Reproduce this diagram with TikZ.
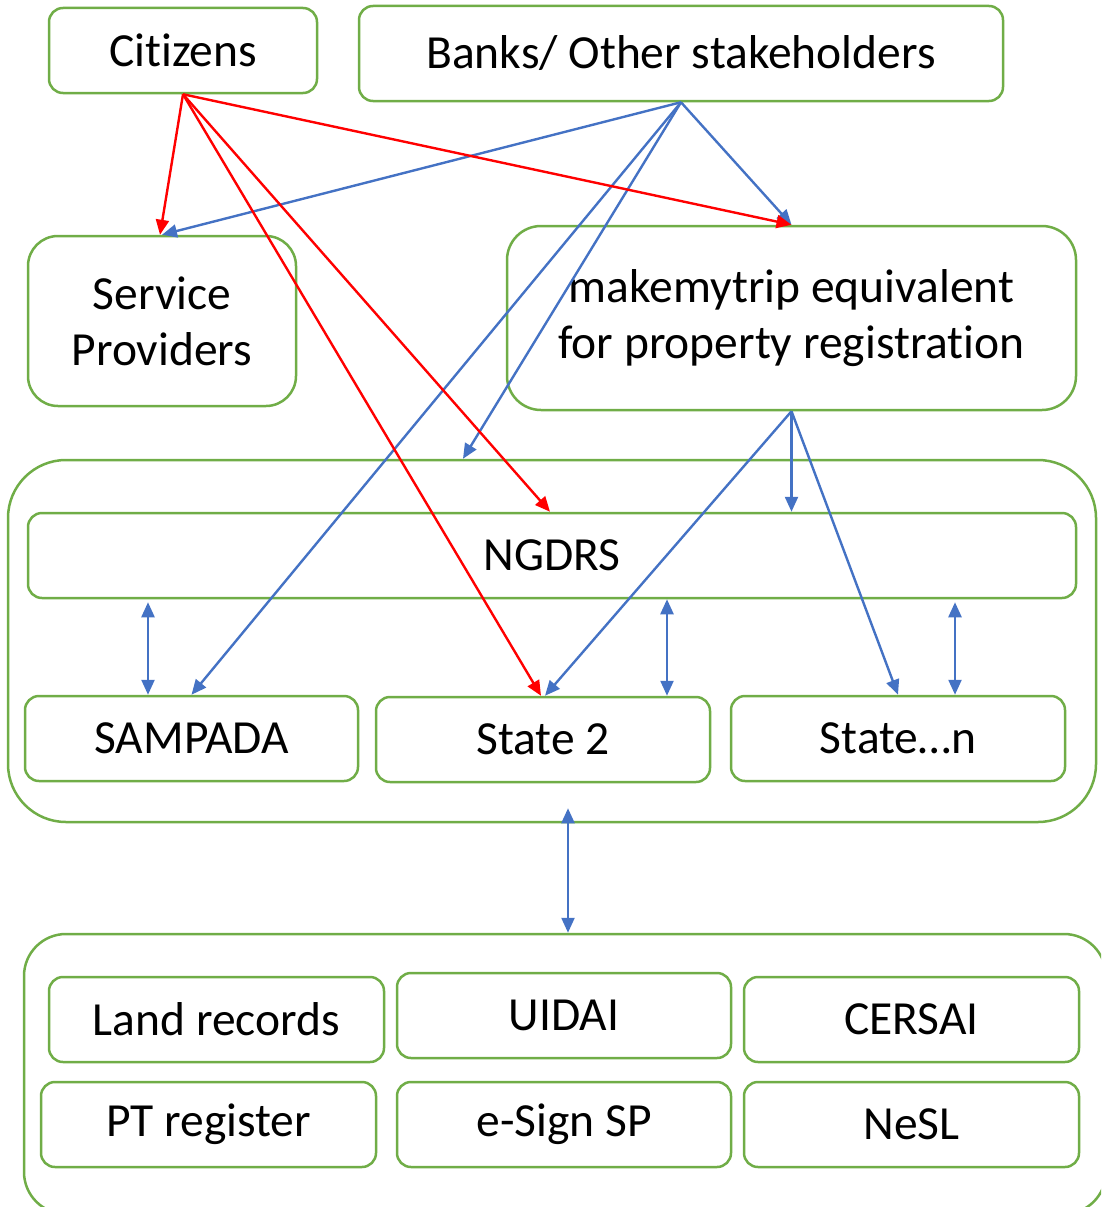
\documentclass[tikz,border=0pt]{standalone}
\usepackage{fontspec}
\setmainfont{Carlito}[Ligatures=CommonOff]
\usetikzlibrary{arrows.meta}
\definecolor{gr}{HTML}{70AD47}
\definecolor{bl}{HTML}{4472C4}
\definecolor{rd}{HTML}{FF0000}
\begin{document}
\begin{tikzpicture}[x=1pt,y=-1pt,
  box/.style={draw=gr, line width=2.5pt, rounded corners=14pt, inner sep=0pt,
    align=center, font=\fontsize{47.5}{56}\selectfont},
  rarrow/.style={draw=rd, line width=2.4pt, -{Triangle[length=15pt,width=13pt]}},
  barrow/.style={draw=bl, line width=2.4pt, -{Triangle[length=15pt,width=13pt]}},
  bdbl/.style={draw=bl, line width=2.4pt, {Triangle[length=15pt,width=13pt]}-{Triangle[length=15pt,width=13pt]}}]
\useasboundingbox (0,0) rectangle (1101,1207);
\clip (0,0) rectangle (1101,1207);

% containers
\node[box, rounded corners=58pt, minimum width=1088pt, minimum height=362pt] (mid) at (552,641) {};
\node[box, rounded corners=42pt, minimum width=1082pt, minimum height=280pt] (bot) at (565,1074) {};

% top
\node[box, minimum width=268pt, minimum height=85pt] (cit) at (183,50.5) {Citizens};
\node[box, minimum width=644pt, minimum height=95pt] (bank) at (681,53.5) {Banks/ Other stakeholders};
\node[box, rounded corners=30pt, minimum width=268pt, minimum height=170pt] (sp) at (162,321) {Service\\Providers};
\node[box, rounded corners=34pt, minimum width=569pt, minimum height=184pt] (mmt) at (791.5,318) {makemytrip equivalent\\for property registration};

% middle
\node[box, minimum width=1048pt, minimum height=85pt] (ngdrs) at (552,555.5) {NGDRS};
\node[box, minimum width=333pt, minimum height=85pt] (sam) at (191.5,738.5) {SAMPADA};
\node[box, minimum width=334pt, minimum height=85pt] (s2) at (543,739.5) {State 2};
\node[box, minimum width=334pt, minimum height=85pt] (stn) at (898,738.5) {State…n};

% bottom
\node[box, minimum width=335pt, minimum height=85pt] (land) at (216.5,1019.5) {Land records};
\node[box, minimum width=334pt, minimum height=85pt] (uid) at (564,1015.5) {UIDAI};
\node[box, minimum width=335pt, minimum height=85pt] (cer) at (911.5,1019.5) {CERSAI};
\node[box, minimum width=335pt, minimum height=85pt] (pt) at (208.5,1124.5) {PT register};
\node[box, minimum width=334pt, minimum height=85pt] (esg) at (564,1124.5) {e-Sign SP};
\node[box, minimum width=335pt, minimum height=85pt] (nesl) at (911.5,1124.5) {NeSL};

% helper coordinates
\coordinate (midin) at ([xshift=-89pt]mid.north);
\coordinate (d1) at ([xshift=-43.5pt]sam.north);
\coordinate (d2) at ([xshift=124pt]s2.north);
\coordinate (d3) at ([xshift=57pt]stn.north);
\coordinate (d4t) at ([xshift=16pt,yshift=15pt]mid.south);

% blue from banks
\draw[barrow] (bank.south) -- (sp.north);
\draw[barrow] (bank.south) -- (mmt.north);
\draw[barrow] (bank.south) -- (midin);
\draw[barrow] (bank.south) -- (sam.north);

% blue from makemytrip
\draw[barrow] (mmt.south) -- (mmt.south |- ngdrs.north);
\draw[barrow] (mmt.south) -- ([xshift=2pt]s2.north);
\draw[barrow] (mmt.south) -- (stn.north);

% red from citizens
\draw[rarrow] (cit.south) -- ([xshift=-2pt]sp.north);
\draw[rarrow] (cit.south) -- (mmt.north);
\draw[rarrow] (cit.south) -- ([xshift=-2pt]ngdrs.north);
\draw[rarrow] (cit.south) -- ([xshift=-2pt]s2.north);

% double arrows
\draw[bdbl] ([yshift=-3pt]d1 |- ngdrs.south) -- (d1);
\draw[bdbl] (d2 |- ngdrs.south) -- (d2);
\draw[bdbl] ([yshift=-3pt]d3 |- ngdrs.south) -- (d3);
\draw[bdbl] (d4t) -- (d4t |- bot.north);
\end{tikzpicture}
\end{document}
